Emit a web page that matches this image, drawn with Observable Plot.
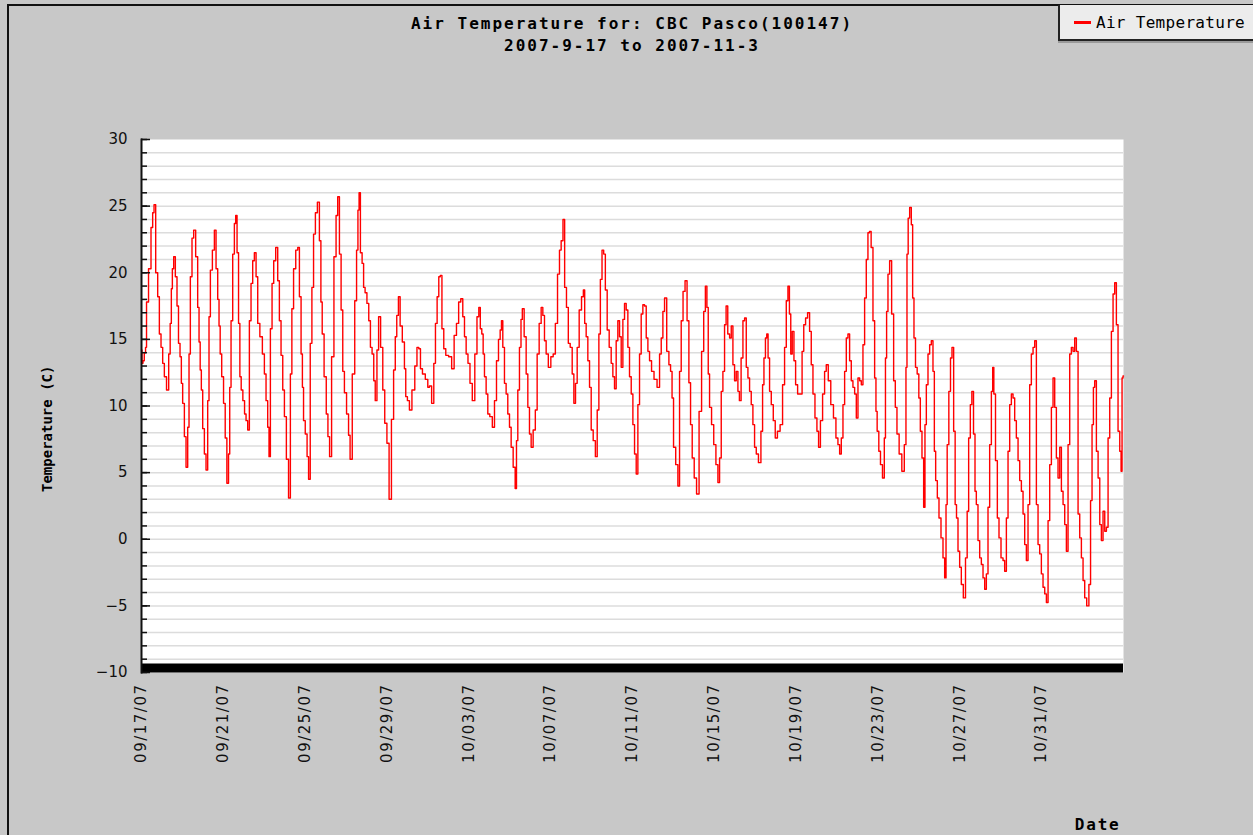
<!DOCTYPE html>
<html><head><meta charset="utf-8">
<script src="https://cdn.jsdelivr.net/npm/d3@7"></script>
<script src="https://cdn.jsdelivr.net/npm/@observablehq/plot@0.6"></script>
<style>
html,body{margin:0;padding:0;}
body{width:1253px;height:835px;overflow:hidden;background:#c8c8c8;position:relative;font-family:"DejaVu Sans Mono",monospace;}
#border{position:absolute;left:7px;top:4px;width:1300px;height:900px;border-top:2px solid #111;border-left:2px solid #111;pointer-events:none;z-index:3;}
#title{position:absolute;left:0;top:13px;width:1264px;text-align:center;font-weight:bold;font-size:16px;letter-spacing:2px;line-height:22px;color:#000;white-space:pre;}
#chart{position:absolute;left:0;top:60px;}
#legend{position:absolute;left:1058px;top:5px;width:220px;height:34px;background:#ececec;border-left:2px solid #222;border-bottom:2px solid #222;box-shadow:0 2px 0 #9a9a9a;z-index:4;}
#legend .sw{position:absolute;left:14px;top:16px;width:17px;height:3px;background:#ff0000;}
#legend .lb{position:absolute;left:36px;top:7px;font-size:16px;line-height:22px;letter-spacing:0.3px;color:#000;white-space:pre;}
.xt text{letter-spacing:1.5px;}
.xlab text{letter-spacing:1.8px;}
</style>
</head><body>
<div id="border"></div>
<div id="title"></div>
<div id="chart"></div>
<div id="legend"><div class="sw"></div><div class="lb"></div></div>
<script>
const titleLines = ["Air Temperature for: CBC Pasco(100147)", "2007-9-17 to 2007-11-3"];
const seriesName = "Air Temperature";
const yLabel = "Temperature (C)";
const xLabel = "Date";
const startDate = "2007-09-17";
const endDate = "2007-11-04";
const xTickDates = ["2007-09-17","2007-09-21","2007-09-25","2007-09-29","2007-10-03","2007-10-07","2007-10-11","2007-10-15","2007-10-19","2007-10-23","2007-10-27","2007-10-31"];
const yMajorTicks = [-10,-5,0,5,10,15,20,25,30];
const yMinorTicks = d3.range(-10,31,1);
const gridValues = d3.range(-9,30,1);

// hours since 2007-09-17 00:00
const hours = [0,1,2.5,4,5.5,6.3,10.2,12.1,14.1,15.3,18,20,21.9,23.9,25.8,27.8,30.9,32.9,34.4,35.6,36.8,38.7,40.7,42.6,44.2,46.2,47.3,49.3,51.3,53.2,
55.2,56.3,58.3,60.2,62.2,64.9,66.9,68.1,69.6,70.8,72.8,74.7,76.7,78.6,79.8,81.8,84.5,86.5,88.4,90.4,91.5,93.1,95.1,97.4,99,101.3,
102.9,104.1,106,108,109.9,111.1,113.1,114.6,116.2,117.7,120.1,121.7,123.6,125.6,127.5,129.5,131.4,133.4,135.4,137.3,140.4,143.2,145.1,147.1,149,150.2,
152.2,154.1,156.1,158.8,160.8,162.7,164.7,166.7,168.6,171.3,173.7,175.6,177.2,179.6,182.3,184.3,186.2,188.2,189.3,190.9,193.3,195.2,196.8,
199.1,200.7,203,205,207.7,209.7,211.2,212.8,215.6,217.9,219.5,221.8,224.2,227.3,229.2,231.2,233.2,235.1,237.1,239,242.1,243.7,245.7,
248.8,251.5,253.1,254.7,255.8,257.8,259.8,261.3,263.3,265.6,267.6,269.5,271.5,273.4,275,277.4,278.9,282.1,284,286.7,289.1,
291.8,294.6,296.9,298.5,300.4,302.4,304.4,307.5,309.4,310.6,313.3,315.3,319.2,322,324.3,326.3,328.2,331,334.9,336.8,338.8,341.9,
343.9,345.8,347.8,349.7,351.3,353.6,355.6,358.3,362.3,365.4,368.1,370.9,373.2,375.9,377.9,379.9,381.8,384.2,386.5,389.6,
392.4,394.7,396.7,398.2,400.2,401.4,403.3,405.3,407.2,410,413.1,415.1,417.8,419.8,421.7,422.9,424.8,426.8,428.7,430.7,432.7,434.6,437.4,439.3,
440.5,442.4,444.4,446,447.5,450.3,452.2,454.2,456.1,458.1,460.8,463.2,465.1,467.9,469.8,471.8,473.7,475.7,478.8,481.6,484.3,486.7,489.4,491.3,493.3,495.6,
497.2,499.9,501.5,504.3,506.2,508.2,510.1,512.1,514.8,517.6,519.1,520.7,522.6,524.6,526.6,528.5,531.3,533.6,535.6,537.5,539.1,541.4,543,
545.3,547.3,550,552,553.9,555.9,557.8,559.8,561.8,563.7,565.7,567.6,569.6,571.5,573.5,575.5,577.4,579.4,581.3,583.3,585.2,587.2,589.1,591.1,
593.1,595,597,599.7,602.8,606.8,608.7,610.7,612.6,614.6,617.7,619.7,621.6,623.2,625.1,628.3,630.2,632.2,634.1,636.5,638.8,641.2,643.1,645.1,647,649.8,652.5,
655.7,658.4,660.7,662.3,664.3,665.4,667.4,670.1,672.5,675.2,677.2,679.1,681.1,683,685,686.6,688.9,690.9,692.8,694.8,696.7,698.7,700.6,702.2,
704.6,706.5,708.5,710.4,712.4,714.3,716.3,718.2,720.2,722.2,725.3,728,729.2,731.2,732.7,734.3,735.8,737.8,739.8,742.5,744.4,747.6,750.7,
753.4,755.4,757.4,759.3,760.9,762.4,764.4,766.4,768.3,771.1,774.2,775.7,778.1,780,782.8,784.7,786.7,788.7,791.4,793.3,795.3,797.6,800.4,802.3,804.3,
807,810.2,813.3,816,818,820,821.9,823.9,825.8,827.8,829.7,831.7,833.6,835.6,837.6,839.5,841.5,843.4,845.4,847.3,849.3,851.2,853.2,854.8,857.1,859.1,861,
862.2,863.8,866.1,867.7,870.8,872,873.5,874.7,876.7,878.6,881.4,883.3,885.3,887.2,890.4,893.5,896.2,897.4,898.6,900.2,902.1,904.1,905.2,907.2,908.8,
911.1,912.7,914.6,916.6,918.5,919.7,921.7,923.6,925.6,927.5,929.5,930.7,932.6,934.6,936.5,939.3,941.2,943.2,944.4,945.9,948.3,949.8,951.8,
953.7,955.3,956.9,958.8,960.8,962.7,965.5,967.8,969.4,971.3,973.3,974.9,977.2,978.4,980.3,982.3,984.3,986.2,988.2,990.1,992.1,994,996,998,999.1,
1000.7,1003,1005,1006.9,1009.7,1011.6,1013.6,1015.6,1017.5,1019.5,1021.4,1023.4,1025.3,1027.3,1029.3,1031.2,1033.2,1035.1,1037.1,1039,
1041,1042.9,1044.9,1046.9,1048.8,1050.8,1052.7,1054.7,1056.6,1058.6,1060.6,1062.5,1064.5,1066.4,1068.4,1070.3,1072.3,1074.2,1076.2,1078.2,
1080.1,1082.1,1084,1086,1087.9,1089.9,1091.8,1093.8,1095.7,1097.7,1099.7,1101.6,1103.6,1105.5,1107.5,1110.2,1112.6,1114.1,1116.1,1117.3,1119.2,
1121.2,1123.2,1125.1,1127,1129,1131,1132.9,1134.9,1136.8,1138.8,1140.7,1142.7,1144.6,1146.6,1148.6,1149.7,1150.9,1152];

const temps = [14.2,13.2,13.4,14,14.4,17.8,20.3,23.4,24.5,25.1,20,18.2,15.4,14.4,13.2,12.2,11.2,13.9,16.2,18.8,20.3,21.2,19.7,17.5,14.7,13.7,11.7,10.2,7.7,5.4,
8.4,13.9,19.7,22.6,23.2,21.2,17.4,14.8,12.7,11.2,8.3,6.4,5.2,10.4,16.7,20.2,21.7,23.2,20.3,18,16,13.9,12.2,10.2,7.6,4.2,
6.4,11.4,16.4,21.4,23.7,24.3,21.5,16.2,12.2,11.2,10.4,9.4,8.9,8.2,16.4,19.2,20.9,21.5,19.7,16.2,15.2,13.9,12.4,10.4,8.4,6.2,
15.8,19.2,20.9,21.9,19.4,16.4,13.8,11.2,9.2,6,3.1,12.4,17.3,20.3,21.7,21.9,18.2,13.9,11.4,8.9,7.9,6.2,4.5,
14.7,18.9,22.9,24.5,25.3,22.4,17.8,15.4,12.2,9.4,7.7,6.2,13.7,21.2,24.3,25.7,21.4,17.2,12.6,11,9.4,7.8,6,
12.4,17.9,21.7,24.7,26,21.5,20.7,18.9,18.5,17.7,16.4,14.4,13.9,11.9,10.4,14.2,16.7,14.4,11.2,8.7,7.2,
3,9,12.7,15.2,16.8,18.2,16,14.8,12.8,10.7,10.4,9.7,11.2,13,14.4,14.3,12.8,12.4,12,11.4,11.5,10.2,
13.2,16.2,18.2,19.7,19.8,15.8,14.3,13.8,13.7,12.8,15.3,16.2,17.8,18.05,16.7,15.2,13.9,13.2,11.7,10.4,
13.9,16.7,17.4,15.8,15.4,13.9,12.2,10.9,9.4,9.2,8.4,10.4,13.4,15,15.7,16.4,14.4,11.7,10.9,9.4,8.4,6.9,5.4,3.8,
7.4,11.2,14.4,16.5,17.3,15.2,12.4,9.9,7.9,6.9,8.2,9.7,13.9,16.2,17.4,16.8,14.9,13.9,12.9,13.7,13.9,16.2,19.9,21.7,22.4,24,
18.9,17.4,14.7,14.4,12.4,10.2,11.7,14.4,17.2,18.2,18.7,16.2,15.2,13.4,11.4,8.2,7.4,6.2,9.7,15.4,19.5,21.7,21.4,
18.7,15.7,14.4,13.2,12.2,11.3,14.9,16.4,15.2,12.9,16.5,17.7,17.2,14.4,12.2,10.9,8.6,6.4,4.9,10.1,13.9,16.9,17.6,17.5,
15.1,14.1,13.4,12.6,12,11.4,13.9,15.1,17.1,18.1,14.1,13.1,12.6,10.6,6.9,5.6,4,12.6,16.4,18.6,19.4,16.4,11.75,8.6,6.1,4.6,3.4,
9.6,14.1,17.1,19,17.4,12.4,9.9,8.6,7.1,5.6,4.25,6.1,11.1,12.6,16.1,17.5,15.4,15.1,16,13.1,11.9,12.6,11.1,10.4,
13.6,16.4,16.6,12.9,12.1,11.1,10.1,8.6,6.9,6.4,5.75,8.1,11.6,13.6,15.1,15.4,13.6,11.1,10.1,8.9,7.6,8.1,8.6,
11.6,14.4,17.9,19,16.9,13.9,15.6,13.4,11.6,10.9,10.9,14.1,16.1,16.6,17,15.6,13.1,10.9,9.1,8.1,6.9,8.9,10.9,12.6,13.1,
11.9,10.1,9.1,7.6,7.1,6.4,7.6,10.1,12.6,15.1,15.4,13.4,11.9,11.4,10.9,9.1,12.1,11.9,11.6,14.6,18.1,21,23,23.1,21.9,16.4,12.1,
9.6,8.1,6.6,5.6,4.6,7.6,13.6,17.1,19.9,20.9,16.9,11.9,9.9,7.9,6.4,5.1,7.1,12.9,21.4,24.1,24.9,23.6,18.1,15.1,12.9,
12.4,10.6,8.1,6.1,2.4,8.6,11.6,13.9,14.6,14.9,12.6,6.6,4.4,3.1,1.6,0.1,-1.4,-2.9,2.6,7.1,11.1,13.6,14.4,
8.1,2.6,1.6,-0.9,-2.1,-3.4,-4.4,-1.4,2.1,7.6,10.1,11.1,7.9,3.6,2.6,-0.1,-1.4,-1.9,-2.9,-3.75,-2.6,2.4,7.1,11.1,12.9,
10.9,5.9,1.6,0.1,-1.4,-1.6,-2.4,1.6,6.6,10.1,10.9,10.6,8.9,7.6,5.9,4.4,3.6,1.9,-0.4,-1.6,
2.6,11.6,13.9,14.4,14.9,2.6,-0.4,-1.1,-2.6,-3.6,-4.1,-4.75,1.4,5.6,9.9,12.1,9.9,6.1,4.6,6.9,
3.6,2.6,1.1,-0.9,7.1,13.9,14.4,14.1,15.1,14.1,1.9,0.1,-1.4,-3.1,-4.4,-5,-3.4,2.9,8.6,11.4,11.9,
6.6,4.6,1.1,-0.1,2.1,0.6,0.9,7.6,10.6,15.6,18.4,19.25,16.1,8.1,6.6,5.1,12.1,12.25];

document.getElementById("title").textContent = titleLines.join("\n");
document.querySelector("#legend .lb").textContent = seriesName;

const t0 = new Date(startDate + "T00:00:00Z");
const data = hours.map((h, i) => ({date: new Date(+t0 + h * 3600000), temp: temps[i]}));
const fmt = d3.utcFormat("%m/%d/%y");

const chart = Plot.plot({
  width: 1253,
  height: 775,
  marginLeft: 141,
  marginRight: 130,
  marginTop: 79,
  marginBottom: 163,
  style: {background: "transparent", fontFamily: "DejaVu Sans", fontSize: "15px", color: "#000", overflow: "visible"},
  x: {type: "utc", domain: [t0, new Date(endDate + "T00:00:00Z")]},
  y: {domain: [-10, 30]},
  marks: [
    Plot.frame({fill: "white", stroke: null}),
    Plot.ruleY(gridValues, {stroke: "#dcdcdc", strokeWidth: 1.5}),
    Plot.line(data, {x: "date", y: "temp", stroke: "#ff0000", strokeWidth: 1.4, curve: "step"}),
    Plot.ruleY([-10], {stroke: "#000", strokeWidth: 9, dy: -4.5}),
    Plot.axisY({ticks: yMinorTicks, tickSize: -6, text: null, label: null, strokeWidth: 1.5, stroke: "#111"}),
    Plot.axisY({ticks: yMajorTicks, tickSize: -9, text: null, label: null, strokeWidth: 1.5, stroke: "#111"}),
    Plot.axisY({ticks: yMajorTicks, tickSize: 0, tickPadding: 14, label: null, fill: "#111"}),
    Plot.frame({anchor: "left", stroke: "#111", strokeWidth: 2}),
    Plot.axisX({ticks: xTickDates.map(s => new Date(s + "T00:00:00Z")), tickSize: 0, tickPadding: 11, tickRotate: -90, tickFormat: fmt, label: null, fill: "#111", className: "xt"}),
    Plot.text([yLabel], {frameAnchor: "left", dx: -94, dy: 86, rotate: -90, fontWeight: "bold", fontFamily: "DejaVu Sans Mono", fontSize: 14, fill: "#000"}),
    Plot.text([xLabel], {frameAnchor: "bottom-right", textAnchor: "end", lineAnchor: "bottom", dx: -3, dy: 157, fontWeight: "bold", fontFamily: "DejaVu Sans Mono", fontSize: 16, fill: "#000", className: "xlab"})
  ]
});
document.getElementById("chart").appendChild(chart);
</script>
</body></html>
